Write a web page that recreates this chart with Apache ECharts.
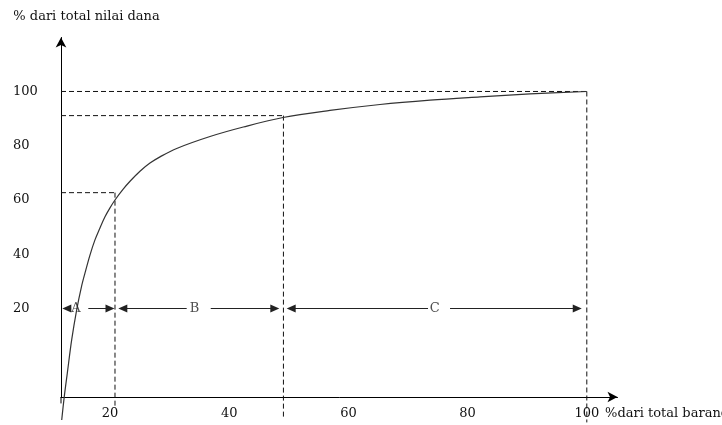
<!DOCTYPE html>
<html>
<head>
<meta charset="utf-8">
<script src="https://cdn.jsdelivr.net/npm/echarts@6/dist/echarts.min.js"></script>
<style>
html,body{margin:0;padding:0;background:#fff;}
#chart{width:722px;height:425px;}
</style>
</head>
<body>
<div id="chart"></div>
<script>
// ---- data ----
const xTicks = [20, 40, 60, 80, 100];
const yTicks = [20, 40, 60, 80, 100];

// cumulative curve (% items -> % value)
const curveX = [11.9, 12.33, 12.84, 13.57, 14.41, 15.2, 15.81, 16.64, 17.48, 18.3, 19.16, 20.0, 20.84, 22.18, 23.36, 25.03, 26.71, 28.39, 31.19, 36.78, 42.37, 49.03, 56.91, 65.3, 73.7, 82.08, 90.47, 100];
const curveY = [-21.1, -12.5, -3.8, 8.4, 19.5, 27.9, 33.1, 39.7, 45.3, 49.6, 53.8, 57.1, 60.0, 63.9, 66.9, 70.6, 73.6, 75.9, 79.0, 83.4, 86.9, 90.4, 93.0, 95.2, 96.8, 98.0, 99.1, 100];

// dashed guide lines
const hGuideY = [100, 91.1, 62.7];      // horizontal guides from the y axis
const hGuideXEnd = [100, 49.1, 20.84];  // ... up to these x values
const vGuideX = [20.84, 49.1, 100];     // vertical guides
const vGuideTop = [62.7, 91.1, 100];
const vGuideBottom = [-16, -20, -22];

// class arrows (A, B, C) at level 20
const classNames = ['A', 'B', 'C'];
const classLabelX = [14.3, 34.2, 74.5];
const classLevel = 20;
const arrowFrom = [13.47, 16.36, 32.87, 36.9, 73.36, 77.05];
const arrowTo   = [12.75, 20.0, 22.15, 47.65, 50.4, 98.4];

const xMin = 11.78, xMax = 105.15;
const yMin = -12.63, yMax = 119.9;
const yAxisStubEnd = -15.0;

const FONT = 'DejaVu Serif';

const chart = echarts.init(document.getElementById('chart'), null, {renderer: 'canvas'});

const curveData = curveX.map((x, i) => [x, curveY[i]]);
const dashStyle = {type: [5, 3], color: '#111', width: 1};
const segSeries = [];
hGuideY.forEach((y, i) => segSeries.push({
  type: 'line', data: [[xMin, y], [hGuideXEnd[i], y]], symbol: 'none', clip: false, silent: true,
  lineStyle: dashStyle, z: 2
}));
vGuideX.forEach((x, i) => segSeries.push({
  type: 'line', data: [[x, vGuideTop[i]], [x, vGuideBottom[i]]], symbol: 'none', clip: false, silent: true,
  lineStyle: dashStyle, z: 2
}));
segSeries.push({
  type: 'line', data: [[xMin, yMin], [xMin, yAxisStubEnd]], symbol: 'none', clip: false, silent: true,
  lineStyle: {type: 'solid', color: '#000', width: 1}, z: 2
});
const arrowLines = arrowFrom.map((f, i) => [{coord: [f, classLevel]}, {coord: [arrowTo[i], classLevel]}]);
const labelData = classNames.map((n, i) => ({name: n, value: [classLabelX[i], classLevel]}));

const option = {
  animation: false,
  backgroundColor: '#fff',
  grid: {left: 61, right: 104.5, top: 37.5, bottom: 28, containLabel: false, outerBoundsMode: 'none'},
  xAxis: {
    type: 'value', min: xMin, max: xMax,
    axisLine: {show: true, onZero: false, symbol: ['none', 'arrow'], symbolSize: [8, 10], lineStyle: {color: '#000', width: 1}},
    axisTick: {show: false},
    splitLine: {show: false},
    axisLabel: {customValues: xTicks, margin: 10, color: '#111', fontFamily: FONT, fontSize: 13},
    name: '%dari total barang', nameLocation: 'end', nameGap: -15,
    nameTextStyle: {color: '#111', fontFamily: FONT, fontSize: 13, align: 'left', verticalAlign: 'top', padding: [10, 0, 0, 0]}
  },
  yAxis: {
    type: 'value', min: yMin, max: yMax,
    axisLine: {show: true, onZero: false, symbol: ['none', 'arrow'], symbolSize: [8, 10], lineStyle: {color: '#000', width: 1}},
    axisTick: {show: false},
    splitLine: {show: false},
    axisLabel: {customValues: yTicks, margin: 48, align: 'left', color: '#111', fontFamily: FONT, fontSize: 13},
    name: '% dari total nilai dana', nameLocation: 'end', nameGap: 14,
    nameTextStyle: {color: '#111', fontFamily: FONT, fontSize: 13, align: 'center', padding: [0, 0, 0, 51]}
  },
  series: [
    {
      type: 'line', data: curveData, symbol: 'none', smooth: 0.35, clip: false,
      lineStyle: {color: '#333', width: 1.2}, z: 3, silent: true
    }
  ].concat(segSeries).concat([
    {
      type: 'line', data: [], clip: false, silent: true,
      markLine: {
        silent: true, symbol: ['none', 'triangle'], symbolSize: [8, 9], label: {show: false},
        lineStyle: {type: 'solid', color: '#222', width: 1},
        itemStyle: {color: '#222'},
        emphasis: {disabled: true},
        data: arrowLines
      }
    },
    {
      type: 'scatter', data: labelData, symbolSize: 0, silent: true, z: 4,
      label: {show: true, position: 'inside', formatter: '{b}', color: '#222', fontFamily: FONT, fontSize: 13}
    }
  ])
};
chart.setOption(option);
</script>
</body>
</html>
